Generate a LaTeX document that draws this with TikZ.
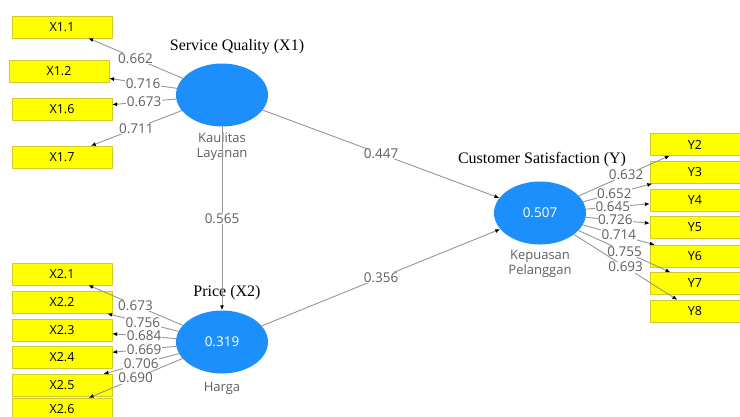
\documentclass[tikz,border=0pt]{standalone}
\usepackage{fontspec}
\setmainfont{Liberation Serif}
\setsansfont{Open Sans}
\usetikzlibrary{arrows.meta,positioning,shapes.geometric}

\definecolor{lvblue}{RGB}{28,143,252}
\definecolor{itemyellow}{RGB}{255,255,0}
\definecolor{pathgray}{RGB}{150,150,150}
\definecolor{valgray}{RGB}{95,95,95}

\begin{document}
\begin{tikzpicture}[
  x=1bp,
  y=-1bp,
  line cap=round,
  line join=round,
  latent/.style={ellipse, fill=lvblue, minimum width=92bp, minimum height=63bp,
    inner sep=0pt, text=white, font=\sffamily\fontsize{13.5bp}{15bp}\selectfont},
  item/.style={rectangle, fill=itemyellow, draw=yellow!80!black, line width=0.3pt,
    minimum width=100bp, minimum height=22bp, inner sep=0pt,
    font=\sffamily\fontsize{12.5bp}{14bp}\selectfont},
  coef/.style={fill=white, inner sep=0.5pt, text=valgray,
    font=\sffamily\fontsize{13.5bp}{15bp}\selectfont},
  link/.style={draw=pathgray, line width=0.9pt,
    -{Latex[black,length=5bp,width=4bp]}},
  title/.style={font=\fontsize{16bp}{18bp}\selectfont},
  caption/.style={text=valgray, align=center,
    font=\sffamily\fontsize{13bp}{15bp}\selectfont}
]

\useasboundingbox (0,0) rectangle (740,416);

% Latent variables
\node[latent] (sq) at (222,95) {};
\node[latent] (pr) at (222,342) {0.319};
\node[latent] (cs) at (540,213) {0.507};

% Construct names
\node[title] (sqname) at (237,47) {Service Quality (X1)};
\node[title] (prname) at (227,293) {Price (X2)};
\node[title] (csname) at (542,160) {Customer Satisfaction (Y)};

\node[caption, below=2bp of sq] (sqcap) {Kaulitas\\Layanan};
\node[caption, below=5bp of pr] (prcap) {Harga};
\node[caption, below=2bp of cs] (cscap) {Kepuasan\\Pelanggan};

% Indicators of service quality
\foreach \id/\nm/\xx/\yy in {x11/X1.1/62/27, x12/X1.2/59/71,
  x16/X1.6/62/109, x17/X1.7/62/157}{
  \node[item] (\id) at (\xx,\yy) {\nm};
}

% Indicators of price (X2.6 runs off the page)
\foreach \id/\nm/\yy in {x21/X2.1/274, x22/X2.2/302.5, x23/X2.3/330,
  x24/X2.4/357, x25/X2.5/385, x26/X2.6/409}{
  \node[item] (\id) at (62,\yy) {\nm};
}

% Indicators of satisfaction
\foreach \id/\nm/\yy in {y2/Y2/144.5, y3/Y3/172.5, y4/Y4/200,
  y5/Y5/227.5, y6/Y6/256, y7/Y7/283.5, y8/Y8/311}{
  \node[item, minimum width=90bp] (\id) at (695,\yy) {\nm};
}

% Outer loadings
\foreach \id/\val in {x11/0.662, x12/0.716, x16/0.673, x17/0.711}{
  \draw[link] (sq) -- node[coef] {\val} (\id);
}

\foreach \id/\val in {x21/0.673, x22/0.756, x23/0.684,
  x24/0.669, x25/0.706, x26/0.690}{
  \draw[link] (pr) -- node[coef] {\val} (\id);
}

\foreach \id/\val/\p in {y2/0.632/0.52, y3/0.652/0.45, y4/0.645/0.42,
  y5/0.726/0.46, y6/0.714/0.5, y7/0.755/0.5, y8/0.693/0.5}{
  \draw[link] (cs) -- node[coef, pos=\p] {\val} (\id);
}

% Path coefficients
\draw[link] (sq) -- node[coef] {0.565} (pr);
\draw[link] (sq) -- node[coef] {0.447} (cs);
\draw[link] (pr) -- node[coef] {0.356} (cs);

\end{tikzpicture}
\end{document}
